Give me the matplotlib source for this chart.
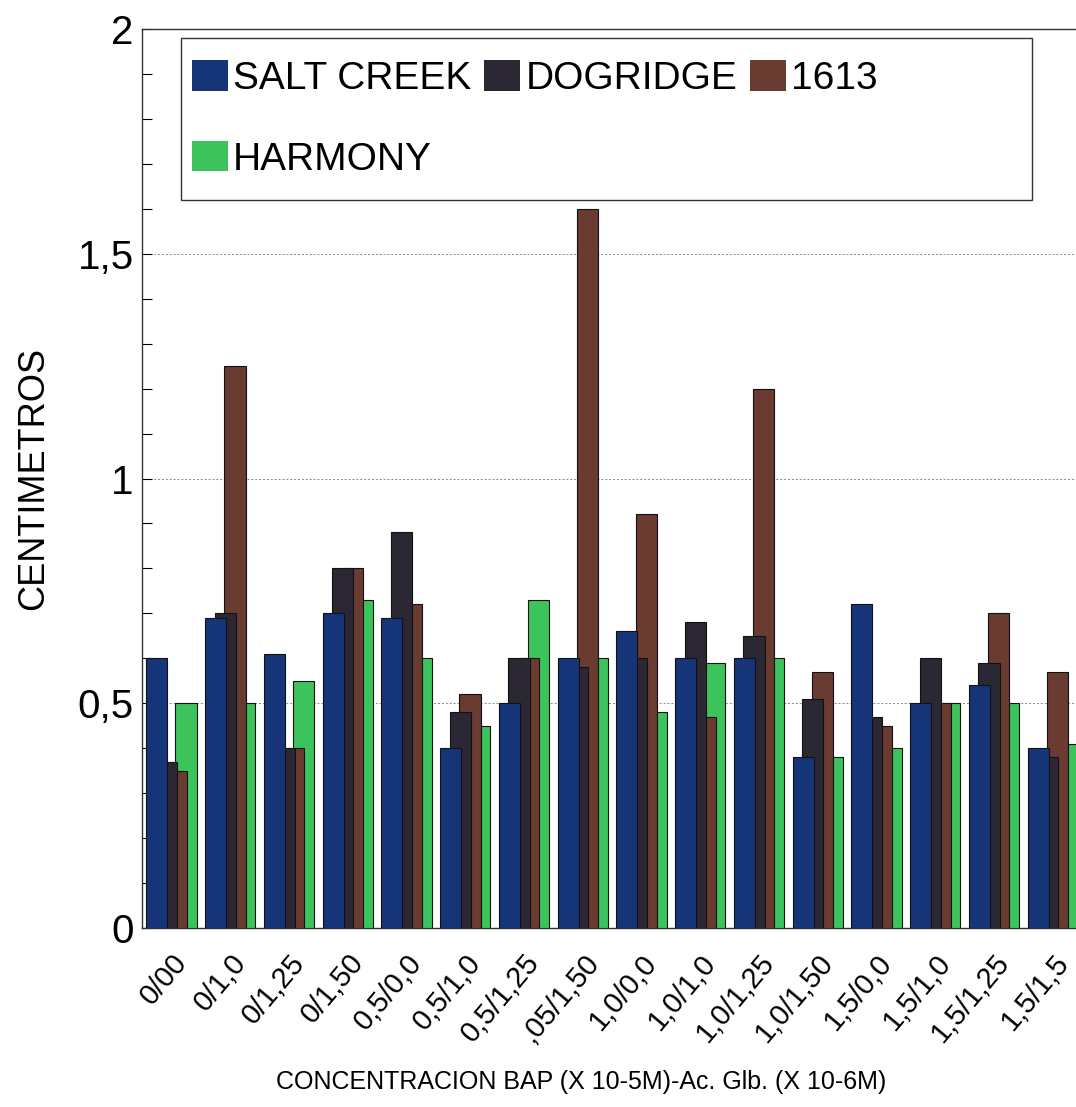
import matplotlib
matplotlib.use('Agg')
import matplotlib.pyplot as plt
import numpy as np
from matplotlib.patches import Patch, Rectangle

plt.rcParams['font.family'] = ['Liberation Sans', 'DejaVu Sans']

# datos
categorias = ['0/00', '0/1,0', '0/1,25', '0/1,50', '0,5/0,0', '0,5/1,0', '0,5/1,25', ',05/1,50',
              '1,0/0,0', '1,0/1,0', '1,0/1,25', '1,0/1,50', '1,5/0,0', '1,5/1,0', '1,5/1,25', '1,5/1,5']
salt_creek = [0.60, 0.69, 0.61, 0.70, 0.69, 0.40, 0.50, 0.60, 0.66, 0.60, 0.60, 0.38, 0.72, 0.50, 0.54, 0.40]
dogridge   = [0.37, 0.70, 0.40, 0.80, 0.88, 0.48, 0.60, 0.58, 0.60, 0.68, 0.65, 0.51, 0.47, 0.60, 0.59, 0.38]
s1613      = [0.35, 1.25, 0.40, 0.80, 0.72, 0.52, 0.60, 1.60, 0.92, 0.47, 1.20, 0.57, 0.45, 0.50, 0.70, 0.57]
harmony    = [0.50, 0.50, 0.55, 0.73, 0.60, 0.45, 0.73, 0.60, 0.48, 0.59, 0.60, 0.38, 0.40, 0.50, 0.50, 0.41]

series = [('SALT CREEK', salt_creek, '#163478'),
          ('DOGRIDGE', dogridge, '#2b2833'),
          ('1613', s1613, '#6a3b31'),
          ('HARMONY', harmony, '#3dc35c')]

fig = plt.figure(figsize=(10.76, 11.07), dpi=100)
ax = fig.add_axes([0.132, 0.1617, 0.8736, 0.8121])

x = np.arange(len(categorias))
w = 0.36      # ancho de barra
paso = 0.165  # desplazamiento entre series (barras solapadas)
inicio = -0.4275 + w / 2

for k, (nombre, vals, col) in enumerate(series):
    ax.bar(x + inicio + k * paso, vals, width=w, color=col, edgecolor='#111111',
           linewidth=0.8, zorder=10 - k)

ax.set_xlim(-0.5, len(categorias) - 0.5)
ax.set_ylim(0, 2)
ax.set_yticks([0, 0.5, 1, 1.5, 2])
ax.set_yticklabels(['0', '0,5', '1', '1,5', '2'], fontsize=29)
ax.set_yticks(np.arange(0, 2.01, 0.1), minor=True)
ax.tick_params(axis='y', which='both', direction='in', length=7, width=0.8, pad=6)
ax.yaxis.grid(True, linestyle=(0, (2, 2)), linewidth=0.7, color='#888888')
ax.set_axisbelow(True)

ax.set_xticks(x)
ax.set_xticklabels(categorias, rotation=50, ha='right', rotation_mode='anchor', fontsize=21)
ax.tick_params(axis='x', length=0, pad=15)

for s in ['left', 'bottom', 'top', 'right']:
    ax.spines[s].set_linewidth(1.0)
    ax.spines[s].set_color('#333333')

ax.set_ylabel('CENTIMETROS', fontsize=26)
ax.yaxis.set_label_coords(-0.097, 0.5)
fig.text(581 / 1076, 1 - 1082 / 1107, 'CONCENTRACION BAP (X 10-5M)-Ac. Glb. (X 10-6M)',
         ha='center', va='center', fontsize=18)

# caja de leyenda
ax.add_patch(Rectangle((0.0415, 0.81), 0.9468 - 0.0415, 0.99 - 0.81, transform=ax.transAxes,
                       facecolor='white', edgecolor='#333333', linewidth=1.0, zorder=20))
handles = [Patch(facecolor=c, edgecolor='none', label=n) for n, v, c in series]
orden = [0, 3, 1, 2]
leg = ax.legend([handles[i] for i in orden], [series[i][0] for i in orden], ncol=3,
                loc='upper left', bbox_to_anchor=(0.053, 0.965), frameon=False,
                prop={'size': 28}, borderpad=0, borderaxespad=0,
                handlelength=0.93, handleheight=0.82, handletextpad=0.13,
                columnspacing=0.33, labelspacing=1.13)
leg.set_zorder(21)

fig.savefig('out.png', dpi=100, facecolor='white')
